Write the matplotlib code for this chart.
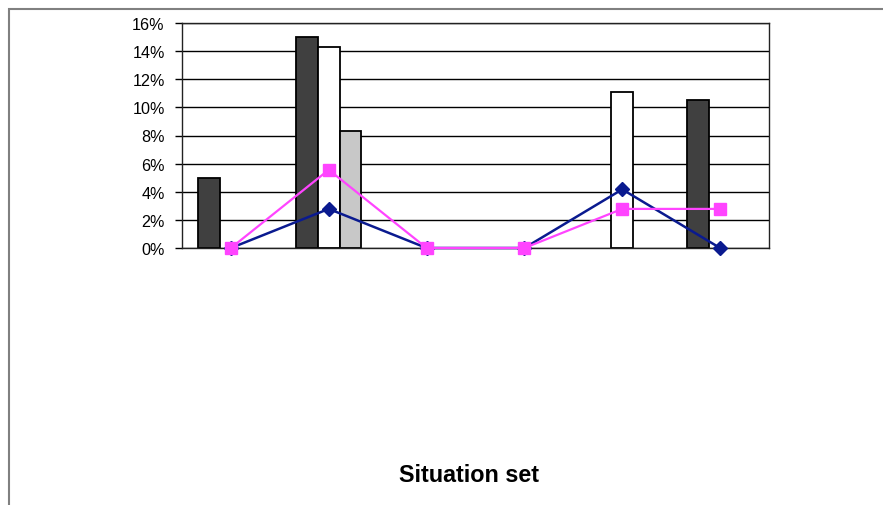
import matplotlib.pyplot as plt
import matplotlib as mpl
import numpy as np

mpl.rcParams.update({'font.family': ['Liberation Sans', 'DejaVu Sans'], 'font.size': 11.6})

situations = ["1", "2", "3", "4", "5", "6"]
# bar series (fractions)
bar_dark = [0.050, 0.150, 0.0, 0.0, 0.0, 0.1055]
bar_white = [0.0, 0.1429, 0.0, 0.0, 0.1112, 0.0]
bar_light = [0.0, 0.0833, 0.0, 0.0, 0.0, 0.0]
# line series
line_blue = [0.0, 0.0278, 0.0, 0.0, 0.0417, 0.0]
line_pink = [0.0, 0.0556, 0.0, 0.0, 0.0278, 0.0278]

fig = plt.figure(figsize=(8.83, 5.06), dpi=100)
ax = fig.add_axes([182 / 883, 1 - 249 / 506, 587 / 883, 225 / 506])

x = np.arange(len(situations))
w = 1 / 4.5
for i, (vals, col) in enumerate([(bar_dark, '#404040'), (bar_white, '#ffffff'), (bar_light, '#c8c8c8')]):
    v = np.array(vals)
    m = v > 0
    ax.bar(x[m] + (i - 1) * w, v[m], width=w, color=col, edgecolor='black', linewidth=1.3, zorder=2)

ax.plot(x, line_blue, color='#0a1a8f', linewidth=1.8, marker='D', markersize=7.3, clip_on=False, zorder=3)
ax.plot(x, line_pink, color='#ff44ff', linewidth=1.6, marker='s', markersize=8.4, clip_on=False, zorder=4)

ax.set_xlim(-0.5, len(situations) - 0.5)
ax.set_ylim(0, 0.16)
ax.set_yticks(np.arange(0, 0.161, 0.02))
ax.yaxis.set_major_formatter(mpl.ticker.FuncFormatter(lambda v, p: f"{v * 100:.0f}%"))
ax.grid(axis='y', color='black', linewidth=1.0, zorder=0)
ax.set_axisbelow(True)
ax.set_xticks([])
ax.tick_params(axis='y', length=5, width=1, color='black', pad=7.5)
for s in ax.spines.values():
    s.set_color('#222222')
    s.set_linewidth(1.0)

fig.text(469 / 883, 1 - 476 / 506, "Situation set", ha='center', va='center', fontsize=16.8, fontweight='bold')

# outer chart frame
frame = plt.Rectangle((9 / 883, -0.05), 1.1, 1 - 10 / 506 + 0.05, transform=fig.transFigure,
                      fill=False, edgecolor='#808080', linewidth=1.5)
fig.add_artist(frame)

fig.savefig("out.png", dpi=100)
